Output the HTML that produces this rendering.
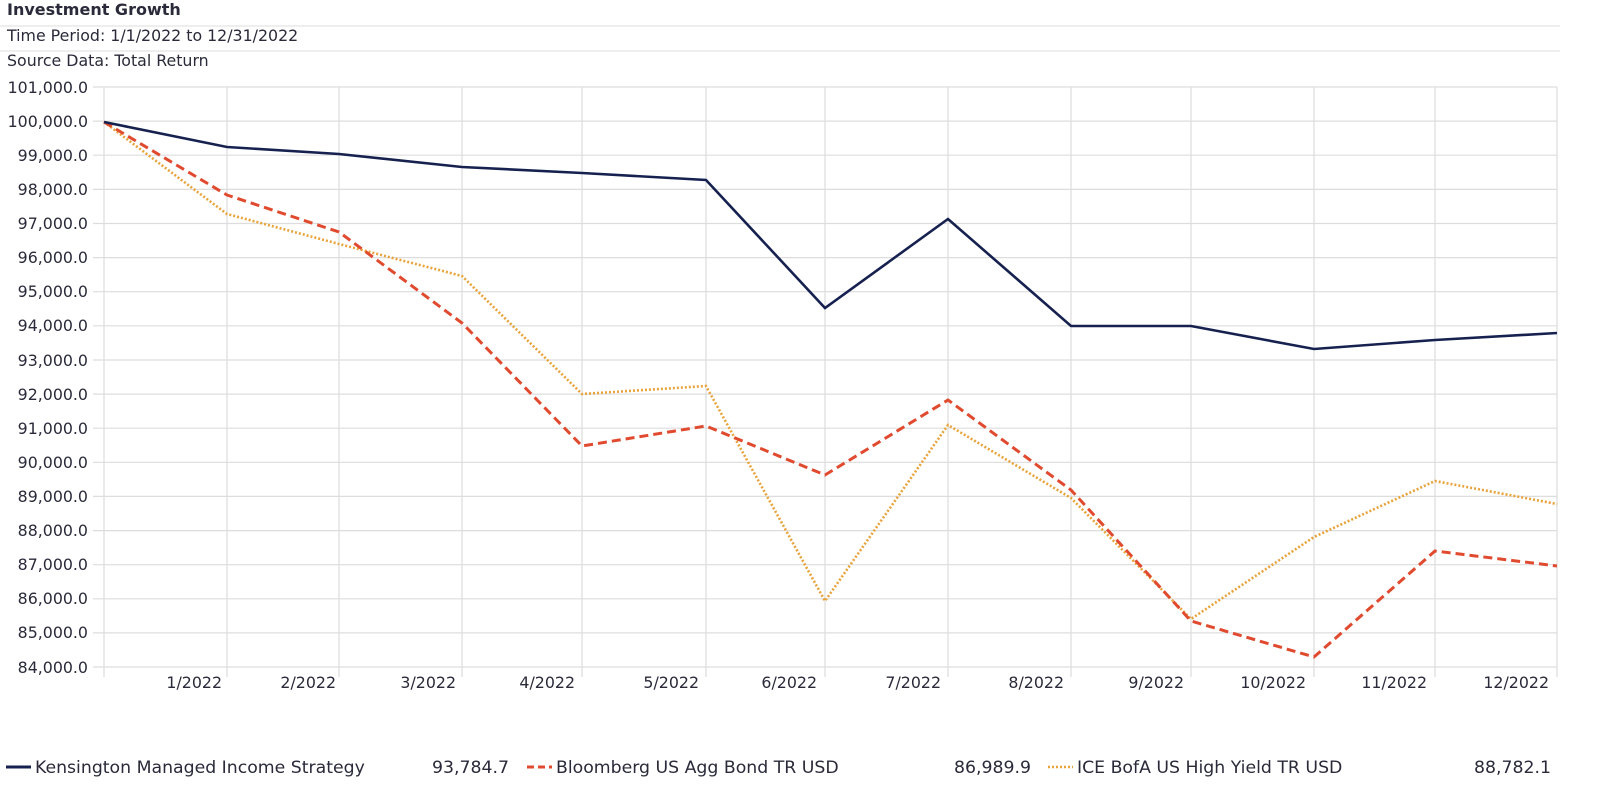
<!DOCTYPE html>
<html><head><style>
body{margin:0;width:1600px;height:803px;background:#fff;overflow:hidden}
svg text{font-family:"DejaVu Sans","Liberation Sans",sans-serif;fill:#2a2a3a}
</style></head><body>
<svg width="1600" height="803" viewBox="0 0 1600 803">
<text x="7" y="15" font-size="16" font-weight="bold" fill="#111">Investment Growth</text>
<line x1="0" y1="26" x2="1560" y2="26" stroke="#ddd"/>
<text x="7" y="41" font-size="15.8" fill="#444">Time Period: 1/1/2022 to 12/31/2022</text>
<line x1="0" y1="51" x2="1560" y2="51" stroke="#ddd"/>
<text x="7" y="66" font-size="15.8" fill="#444">Source Data: Total Return</text>
<g stroke="#ddd" stroke-width="1.2">
<line x1="93" x2="1557" y1="87" y2="87"/><line x1="93" x2="1557" y1="121.1" y2="121.1"/><line x1="93" x2="1557" y1="155.2" y2="155.2"/><line x1="93" x2="1557" y1="189.4" y2="189.4"/><line x1="93" x2="1557" y1="223.5" y2="223.5"/><line x1="93" x2="1557" y1="257.6" y2="257.6"/><line x1="93" x2="1557" y1="291.7" y2="291.7"/><line x1="93" x2="1557" y1="325.8" y2="325.8"/><line x1="93" x2="1557" y1="360" y2="360"/><line x1="93" x2="1557" y1="394.1" y2="394.1"/><line x1="93" x2="1557" y1="428.2" y2="428.2"/><line x1="93" x2="1557" y1="462.3" y2="462.3"/><line x1="93" x2="1557" y1="496.4" y2="496.4"/><line x1="93" x2="1557" y1="530.6" y2="530.6"/><line x1="93" x2="1557" y1="564.7" y2="564.7"/><line x1="93" x2="1557" y1="598.8" y2="598.8"/><line x1="93" x2="1557" y1="632.9" y2="632.9"/><line x1="93" x2="1557" y1="667" y2="667"/>
<line x1="104" x2="104" y1="87" y2="677"/><line x1="227" x2="227" y1="87" y2="677"/><line x1="339" x2="339" y1="87" y2="677"/><line x1="462" x2="462" y1="87" y2="677"/><line x1="582" x2="582" y1="87" y2="677"/><line x1="706" x2="706" y1="87" y2="677"/><line x1="825" x2="825" y1="87" y2="677"/><line x1="948" x2="948" y1="87" y2="677"/><line x1="1071" x2="1071" y1="87" y2="677"/><line x1="1191" x2="1191" y1="87" y2="677"/><line x1="1314" x2="1314" y1="87" y2="677"/><line x1="1435" x2="1435" y1="87" y2="677"/><line x1="1557" x2="1557" y1="87" y2="677"/>
</g>
<g font-size="15.8" text-anchor="end">
<text x="88" y="93">101,000.0</text><text x="88" y="127">100,000.0</text><text x="88" y="161">99,000.0</text><text x="88" y="195">98,000.0</text><text x="88" y="229">97,000.0</text><text x="88" y="263">96,000.0</text><text x="88" y="297">95,000.0</text><text x="88" y="331">94,000.0</text><text x="88" y="366">93,000.0</text><text x="88" y="400">92,000.0</text><text x="88" y="434">91,000.0</text><text x="88" y="468">90,000.0</text><text x="88" y="502">89,000.0</text><text x="88" y="536">88,000.0</text><text x="88" y="570">87,000.0</text><text x="88" y="604">86,000.0</text><text x="88" y="638">85,000.0</text><text x="88" y="673">84,000.0</text>
</g>
<g font-size="15.8" text-anchor="end">
<text x="222" y="688">1/2022</text><text x="336" y="688">2/2022</text><text x="456" y="688">3/2022</text><text x="575" y="688">4/2022</text><text x="699" y="688">5/2022</text><text x="817" y="688">6/2022</text><text x="941" y="688">7/2022</text><text x="1064" y="688">8/2022</text><text x="1184" y="688">9/2022</text><text x="1306" y="688">10/2022</text><text x="1427" y="688">11/2022</text><text x="1549" y="688">12/2022</text>
</g>
<polyline fill="none" stroke="#e8a33a" stroke-width="2.6" stroke-dasharray="2,2" points="104,122 227,214 339,244 462,276 582,394 706,386 825,601 948,425 1071,498 1191,619 1314,537 1435,481 1557,504"/>
<polyline fill="none" stroke="#e04a2f" stroke-width="3" stroke-dasharray="9,5" points="104,122 227,195 339,232 462,323 582,446 706,426 825,475 948,400 1071,490 1191,621 1314,657 1435,551 1557,566"/>
<polyline fill="none" stroke="#16214f" stroke-width="2.6" points="104,122 227,147 339,154 462,167 582,173 706,180 825,308 948,219 1071,326 1191,326 1314,349 1435,340 1557,333"/>
<line x1="6" x2="31" y1="767" y2="767" stroke="#16214f" stroke-width="3"/>
<text x="35" y="773" font-size="17.3">Kensington Managed Income Strategy</text>
<text x="509" y="773" font-size="17.3" text-anchor="end">93,784.7</text>
<line x1="527" x2="552" y1="767" y2="767" stroke="#e04a2f" stroke-width="3" stroke-dasharray="7,4"/>
<text x="556" y="773" font-size="17.3">Bloomberg US Agg Bond TR USD</text>
<text x="1031" y="773" font-size="17.3" text-anchor="end">86,989.9</text>
<line x1="1048" x2="1073" y1="767" y2="767" stroke="#e8a33a" stroke-width="2.6" stroke-dasharray="2,2"/>
<text x="1077" y="773" font-size="17.3">ICE BofA US High Yield TR USD</text>
<text x="1551" y="773" font-size="17.3" text-anchor="end">88,782.1</text>
</svg>
</body></html>
